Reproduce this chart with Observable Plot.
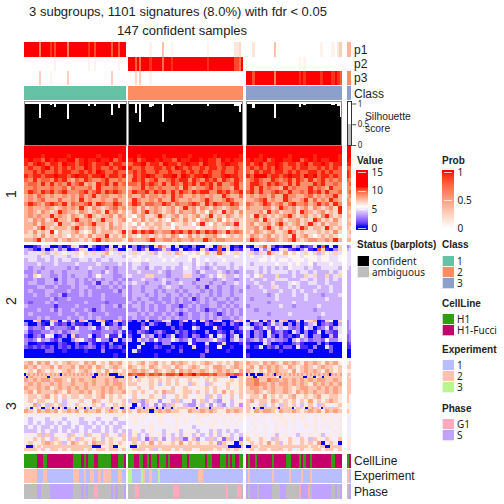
<!DOCTYPE html>
<html><head><meta charset="utf-8">
<script src="https://cdn.jsdelivr.net/npm/d3@7"></script>
<script src="https://cdn.jsdelivr.net/npm/@observablehq/plot@0.6"></script>
<style>
html,body{margin:0;padding:0;background:#fff}
#c{position:relative;width:504px;height:504px;overflow:hidden;font-family:"Liberation Sans",sans-serif;color:#222}
#c>svg,#c>div{position:absolute}
#c svg{background:transparent}
</style></head><body><div id="c"></div>
<script>
// ---------- data ----------
const groups = ["1","2","3"];
const classColors = ["#66C2A5","#FC8D62","#8DA0CB"];
const groupSizes = [48,54,45,2];
const p1 = ["fffffff a ffff e f d fffff a fffffffff e ff d fffffff c ff c fff",
            "0000000000 1 00000 5 000 1 0000000000000000 1 000000000000 2 2 3 0",
            "000 2 000000000 5 000000000000000000000 1 0000 1 1 0 2 4","66"];
const p2 = ["00000000000000 1 000000000000000 1 00 1 0000000000 1 000",
            "fff c f b ffff e fffff b fff e ffffffffffffffff e ffffffffffff d d b f",
            "0000000000000000000000000 1 0 1 00000000000000000","00"];
const p3 = ["0000000 4 0000 1 0000000 4 00000000000000000000 4 000000",
            "000 3 0 4 0000 1 0000000000000000000000000000000000000000000",
            "fff d fffffffff a fffffffffff e f e fffffff e ffff e e f e c","99"];
const silhouette = [
 [.98,.99,.98,.98,.99,.98,.98,.66,.98,.99,.98,.98,.97,.98,.92,.98,.99,.98,.98,.98,.62,.98,.99,.98,.98,.98,.99,.98,.98,.98,.95,.98,.98,.95,.98,.99,.98,.98,.98,.99,.98,.72,.98,.98,.9,.98,.98,.99],
 [.99,.98,.98,.78,.98,.55,.98,.98,.99,.98,.92,.95,.98,.98,.99,.98,.55,.98,.98,.99,.97,.98,.98,.99,.98,.98,.98,.99,.98,.98,.98,.99,.98,.98,.98,.99,.98,.95,.98,.99,.98,.98,.99,.98,.98,.98,.99,.98,.98,.98,.95,.93,.8,.98],
 [.98,.99,.98,.88,.98,.98,.99,.98,.98,.99,.98,.98,.98,.65,.98,.99,.98,.98,.98,.99,.98,.98,.98,.99,.98,.92,.98,.96,.98,.99,.98,.98,.98,.99,.98,.98,.98,.99,.98,.98,.96,.96,.98,.93,.68],
 [.5,.5]];
const cellLine = ["GGGGGG MMM GG MMMMMMMMMMMM GGGG M G M GGG MM GGGGGG MMM GGG M",
 "GGG MM GG MM G M GGG M GGG M G MMMMMM GG M GGGGGGGG M GG MMMM GGG M G M G MM GG",
 "M G MM G MMMMMMM G MMMMMM GG MMMM G M G MM G MMMMMMMMM GG MMM","GM"];
const experiment = ["bbbbbb aaa bb aaaaaaaaaaaa bbb aa b aa bb aa b a bbbb aaa bb aa",
 "cc aaaa c b aa b aaa c aaaaaaaaaaaaaaaaaa bb aaaaaaaaaaaaaaaaaaa",
 "a b aaaaaaaaaa b aaaaaaa b aaaaa b aaa b aaaaaaaaaaaaaa","ba"];
const phase = ["nnnnnn pp nnnn ppppppppppp nnnn p n p nnn kk nnnnnn p n p nnn p",
 "nnn kk nnnnnnnnnnnnnnnn kkk nnnnnnnnnnnnnnnnnnnnnn k nnnn kk n",
 "p n ppp n pppppp nnnn ppp nnnnnn k pp p k n ppppppppp nn p n p","np"];
// heat matrix, base-16 digit per block of samples; group1 group2 group3 strip
const heat1Base = 0.8, heat2Base = 0, heat3Base = 0.3;  // value = base + digit
const heat1 = [
"cdcccdccdcccdcccdccdcccd cdcccdcccdccdcccdccdccdcccd cdccdcccdccdccdccdcccdc cc",
"ccbccdcccbccdccbccccbccc ccbcccdcbccccbccdcccbccccbc cccbcccdccbcccccbccdccc cb",
"bcbbabcbbcabbcbbbabcbbab bcabbcbbabbcbbabcbbcabbcbba bbcabbcbbbabcbbcabbcbba bb",
"abaa9babaabb9abaabaab9ab ab9abbabaa9baabbabaa9babaa abaab9abbaabb9ababaabba ba",
"a9aba9aa9baa9aba9aab9aa9 9aab9aa9baa9abaa9baa9abaa9 a9ab9aaba9aa9ab9aaba9aa aa",
"9a99ab9a9a9a99ba9a99a9ab a99a99aa9a9ba9a99a9aa9a99a9 9a9a9a9ba99a9aa99a9a9a9 99",
"99a9a99a9aa99a9a9ba99a99 9a9a99a99a99a9a9a9a99a99a9 98a9aa9aa9a9a99aa9a9a99 a9",
"a9aa9aabaa9abaa9aab9aa9a 8a9aba99aab9ba9aaba99abaa9 a9bbb9aa9abaa9bab9aa9a9 a9",
"98a8998a9a8798a9889a8898 8a9a89a889a9aa8a98a9a8a98a9 89a988a989a8a98a89a8989 98",
"8998a8a898a89a787a9a8a89 998a9a98a8a98a9a8a9a8a889a8 8aa98a9a98a8a888a9a8898 89",
"88988898897988897a888988 788a898988897a87889a89887a8 8a8a89887a89888a8987a88 88",
"8a98a9a89a8889a89a8a9a98 8a99a8a9a8a8a98a9aa88a9a89a 9a8a889a98a8898a9a8a889 89",
"7879878778787978a7887787 8779788787a89778787877a8779 787887977a88778978788a7 78",
"7878977797787a7877877977 7a87787977a8778778a8778a977 7789a7877a8778a79787a87 87",
"8a9879a98a79889a7a988a97 8a979988a979889a97a8a988a97 9878a978979a88978a897a8 88",
"7877787678787a7687678978 7868678767867a7868768767886 87778867a8786786876786a 77",
"78768767a8776876786a7867 6868a78767868778675876a7868 77786a7867786a87678676a 76",
"787877a78768768a76778687 6578667a76786767867a6768767 76a7867678a76786768a767 77",
"7687867a7768a77867a77678 576867676587686757876857676 7786a76786778676a867686 76",
"77868776a7767878a7768676 65757677675667657a6576787a6 78677868a767867a7686776 77",
"7768a7677768a76786768776 675667676657666656667665676 77868a7686767a86776a767 76",
"768676a5766786568677767a 7a8a9a8788a9a8a8a8a9a87a898 7687678667a867666767686 67",
"6676867676576768677a6768 765776767687568676778656767 68767867676a67865676765 66",
"778a6778678776768a787776 87778a77887877877a87887777 7a877887678a767887787a7 77"];
const heat1Heights = [1,1,1,1,1,1,1,1,1,1,1,1,1,1,1,1,1,1,1,1,1,1,1,1];
const heat2 = [
"001257002017510720105071 0301207a8507010300570a87010 1078a5201007301270a0507 34",
"431040352401275010137400 530270127301501207301a07021 52053701572103510a71037 45",
"455574575655767575786575 575657465758765676857a76575 57475a75686765767476575 55",
"555455455545565555455554 656555565556556665555655565 56556565556665666566556 55",
"455445454554455454554555 566565556565556465655565555 55566565665666566566556 55",
"444544454444544445444454 455445555555455465454555455 54555556556565564555655 55",
"434434444434344544434344 454435445454465454345445454 55545454546555454455554 54",
"334344344344444344354344 445444454344455435444543434 44545455554545545444545 44",
"437644334343444346444334 544477444344477443454674454 54674447444544757447457 44",
"334334414344343434344343 344544345443444414443454434 45445445554445545445454 44",
"344334434344343341443434 454434445344544344434434454 44544454445654455445444 44",
"333443343334344334334343 344344434544344434144344344 34454475445454444544544 44",
"343334433343343433333424 344344343443434443434344343 44445444544545445444544 44",
"334334334133343433433334 344434344344343434434344344 44444345444544544434445 44",
"333333423343333333433333 343443343343434134343443434 43444445444444544445444 44",
"323334343333334333323333 434344334343433434344334344 44444344444544444444444 44",
"433333313333433333433424 344343433433134343344343434 34444444544344444544444 44",
"333433424334334313433333 334343433434343343133434343 44344444444444443444444 44",
"343333334333433433343333 443434334343134334343134343 44444344445444444454444 44",
"333434333343343434333343 343343343434334334343433434 44444444444444444344444 44",
"007801780527085007810782 203070227500270507208700278 07507170780170578017607 34",
"300310521203110300501302 000203100300200100310020310 40230253403030245023204 34",
"523325233321533451353325 000350000020100530005100013 54125315453230540235145 34",
"412233434234433322333241 103210231003120100300210301 30320512310530301503215 33",
"202316501307233502361150 200534020250120320150530250 30320520312015303300416 23",
"323634213003763216330703 407342623364235133346320353 23425343320463423326335 23",
"300110002100200310103001 000500103300006100500170001 10005300100231000302000 12",
"212121202120212320202120 005000210020100700200600100 20150213022051103005200 11",
"000002200100001000300001 051000000100200000300001000 00000000100000020000200 00",
"000000000000000000000100 000000100000000002000000000 10000000000000000000000 00"];
const heat2Heights = [.8,.8,.9,1,1,1,1,1,1,1,1,1,1,1,1,1,1,1,1,1,.7,1,1,1,1,1,1,1,1.1,1.2];
const heat3 = [
"786878576787768786768786 767867867687876767876767687 87768787687876878768786 67",
"878677868778687868767876 876768767768767876768876787 78687878768767876787767 77",
"676876766787678767686767 787876876786878778767878768 87676878776867878768767 66",
"078787878787878780787878787878787007878700007877 a9aa8a9a8aa9b9ab9aa9a88a9a9 070070008787808787878787878787878787878087878 77",
"707877777770777777777777777777770077777777700007 776077776777777666777767777777777767677677777776000777 77700677777777607777777777007770677077777777 76",
"878788788768787787787877 767667676767567665767656767 88977988787878787887787 77",
"787877878778778787787887 776567646757664765476567667 88988787887878768787878 77",
"877878678787878777878787 657657566575676566757657567 78878787787678877878787 77",
"786877787687787867878778 676765768775677676757686767 77876787787687878778787 77",
"677678675767767767867676 575657664557675566475465757 67768676767866767866776 76",
"675776575465675687567667 474376535647456357464365456 78677687676757686767876 76",
"568464757465766576465767 605346353476543364535435463 75674576476754675476567 65",
"676066760077607706707766067707706677767770767007 700777707777707707770767777767770677770777777676777777 776077007777770777770677760778776077777776 65",
"876878786787868778678768 768770787877668778787668787 76878876877876787868787 76",
"656565666565656656565666 656565666566656566665656566 66566566656656656566565 65",
"545554555455545554555455 565655565556565565556565656 55655565665656556565656 55",
"545454454545544545454544 565556566556565556566565565 56556556565655656556565 55",
"454544545445454454545445 555656555656555455565556555 55656556565555656565656 55",
"444545445454454544545454 465456554556456545546454545 56555556555655556555565 55",
"565747465647564756475647 464546564645465464546456454 65656564565546565645656 55",
"657675476576476576467657 474527463547426735474627452 76576547657657647657657 66",
"676678767468767687767676 576768576676867676676376607 57676867467657676806760 66",
"600076776777777777777777777777770000666677006666 600067777777777777777777777777777777777777777770000007 0077767777777777777777777767776770077777 65",
"777675776767776757767767 677767467767677567776767676 67677677767567667767767 66"];
const heat3Heights = [1,1,1,.7,.6,1,1,1,1,1,1,1,.6,1,1,1,1,1,1,1,1,1,.6,.8];
const statusLabels = ["confident","ambiguous"];
const statusColors = ["#000000","#BEBEBE"];
const classLabels = ["1","2","3"];
const cellLineLabels = ["H1","H1-Fucci"];
const cellLineColors = ["#2E9E10","#C6006A"];
const experimentLabels = ["1","2","3"];
const experimentColors = ["#B8BEFF","#FFC0AE","#BAF58E"];
const phaseLabels = ["G1","S"];
const phaseColors = ["#FFA8BE","#BFA3FF","#BEBEBE"];
const valueTicks = [0,5,10,15];
const probTicks = [0,0.5,1];
const silTicks = [0,0.5,1];

// ---------- layout helpers ----------
const root = document.getElementById("c");
const clean = s => s.replace(/\s/g,"");
const groupStart = [0,49,104.5,152];     // in column units, gaps included
const xDomain = [0,154];
const xBase = {domain:xDomain, axis:null};
const LEFT = 24, RIGHT = 504-351.25;
function add(node,left,top){node.style.left=left+"px";node.style.top=top+"px";root.appendChild(node);return node;}
function trackPlot(top,h,marks,y={axis:null},extra={}){
  const svg = Plot.plot({width:504,height:h,margin:0,marginLeft:LEFT,marginRight:RIGHT,x:xBase,y,marks,style:{background:"transparent",overflow:"visible"},...extra});
  return add(svg,0,top);
}
function label(t,x,y,o={}){
  const d=document.createElement("div");d.textContent=t;
  d.style.cssText=`white-space:nowrap;line-height:1;font-size:${o.size||10}px;font-weight:${o.bold?"bold":"normal"};transform:${o.rot?"translate(-50%,-50%) rotate(-90deg)":o.center?"translate(-50%,-50%)":"translateY(-50%)"};color:${o.color||"#222"}`;
  return add(d,x,y);
}
function columns(seq){
  const out=[];
  seq.forEach((s,g)=>{
    const vals = typeof s==="string"?[...clean(s)]:s;
    vals.forEach((v,i)=>out.push({v,x1:groupStart[g]+i*groupSizes[g]/vals.length,x2:groupStart[g]+(i+1)*groupSizes[g]/vals.length}));
  });
  return out;
}
const crisp = {shapeRendering:"crispEdges"};
const probColor = {type:"linear",domain:[0,1],range:["#ffffff","#ff0000"],interpolate:d3.interpolateLab,clamp:true};
const valueColor = {type:"linear",domain:[0,0.5,5.7,11,15],range:["#0000ff","#0000ff","#ffffff","#ff0000","#ff0000"],interpolate:d3.interpolateLab,clamp:true};

// ---------- probability tracks ----------
[[p1,42,14.7],[p2,56.7,14.3],[p3,71,14]].forEach(([seq,top,h])=>{
  const d=columns(seq).map(c=>({...c,p:parseInt(c.v,16)/15}));
  trackPlot(top,h,[Plot.rect(d,{x1:"x1",x2:"x2",y1:0,y2:1,fill:"p",...crisp})],{axis:null,domain:[0,1]},{color:probColor});
});
// ---------- categorical tracks ----------
function catTrack(seq,top,h,map){
  const d=columns(seq).map(c=>({...c,col:map[c.v]}));
  trackPlot(top,h,[Plot.rect(d,{x1:"x1",x2:"x2",y1:0,y2:1,fill:"col",...crisp})],{axis:null,domain:[0,1]});
}
catTrack(["000000000000000000000000000000000000000000000000",
          "111111111111111111111111111111111111111111111111111111",
          "222222222222222222222222222222222222222222222","22"],86,14,classColors);
const clMap={G:cellLineColors[0],M:cellLineColors[1]};
const exMap={a:experimentColors[0],b:experimentColors[1],c:experimentColors[2]};
const phMap={k:phaseColors[0],p:phaseColors[1],n:phaseColors[2]};
catTrack(cellLine,454,14,clMap);
catTrack(experiment,469,14,exMap);
catTrack(phase,484,15,phMap);

// ---------- silhouette ----------
const silD=columns(silhouette);
const frames=groupStart.map((g,i)=>({x1:g,x2:g+groupSizes[i],dark:i===3}));
trackPlot(101,44,[
  Plot.rect(silD.slice(0,147),{x1:"x1",x2:"x2",y1:0,y2:"v",fill:"#000",...crisp}),
  Plot.rect(silD.slice(147),{x1:"x1",x2:"x2",y1:0,y2:"v",fill:"#BEBEBE",...crisp}),
  Plot.rect(frames,{x1:"x1",x2:"x2",y1:0,y2:1.06,fill:"none",stroke:d=>d.dark?"#333":"#8c8c8c",strokeWidth:1,...crisp}),
  Plot.axisY({anchor:"right",ticks:silTicks,tickFormat:d=>String(d),tickSize:4,tickPadding:2,fontSize:8,label:null,color:"#222",stroke:"#555"})
],{axis:null,domain:[0,1.06]},{clip:false});

// ---------- heat blocks ----------
[[heat1,heat1Base,heat1Heights,146,96],[heat2,heat2Base,heat2Heights,245,113],[heat3,heat3Base,heat3Heights,361,90]].forEach(([rows,base,hts,top,h])=>{
  const cells=[];
  let y0=0;
  rows.forEach((r,ri)=>{
    const y1=y0+hts[ri];
    r.split(" ").forEach((s,g)=>{
      [...s].forEach((ch,i)=>{
        const d=parseInt(ch,16);
        cells.push({v:d===0?0:base+d,y0,y1,
          x1:groupStart[g]+i*groupSizes[g]/s.length,x2:groupStart[g]+(i+1)*groupSizes[g]/s.length});
      });
    });
    y0=y1;
  });
  trackPlot(top,h,[Plot.rect(cells,{x1:"x1",x2:"x2",y1:"y0",y2:"y1",fill:"v",...crisp})],
    {axis:null,domain:[0,y0],reverse:true},{color:valueColor});
});

// ---------- color bars ----------
function colorBar(left,ticks,color,max,fmt){
  const pad=max/30;
  const steps=d3.range(0,60).map(i=>({a:-pad+i*(max+2*pad)/60,b:-pad+(i+1)*(max+2*pad)/60}));
  const svg=Plot.plot({width:40,height:60,margin:0,marginRight:28,color,
    x:{domain:[0,1],axis:null},y:{domain:[-pad,max+pad]},
    marks:[
      Plot.rect(steps,{x1:0,x2:1,y1:"a",y2:"b",fill:d=>(d.a+d.b)/2,...crisp}),
      Plot.ruleY(ticks,{y:d=>d,x1:0.15,x2:0.85,stroke:"#fff",strokeWidth:1,strokeOpacity:.75,...crisp}),
      Plot.axisY({anchor:"right",ticks,tickFormat:fmt,tickSize:0,tickPadding:3,fontSize:10,label:null,color:"#222"})
    ],style:{overflow:"visible",background:"transparent"}});
  add(svg,left,170);
}
colorBar(356,valueTicks,valueColor,15,d=>String(d));
colorBar(442,probTicks,probColor,1,d=>String(d));

// ---------- swatch legends ----------
function swatches(left,top,labels,colors){
  const d=labels.map((l,i)=>({l,c:colors[i]}));
  const step=11.7;
  const svg=Plot.plot({width:90,height:step*labels.length,margin:0,marginRight:78,
    x:{domain:[0],axis:null,padding:0},y:{domain:labels,axis:null,padding:0},
    marks:[
      Plot.cell(d,{x:()=>0,y:"l",fill:"c",stroke:"#fff",strokeWidth:.7,...crisp}),
      Plot.text(d,{x:()=>0,y:"l",text:"l",textAnchor:"start",dx:8.5,fontSize:10,fill:"#222"})
    ],style:{overflow:"visible",background:"transparent"}});
  add(svg,left,top);
}
swatches(356.5,254.5,statusLabels,statusColors);
swatches(442,254.5,classLabels,classColors);
swatches(442,312.5,cellLineLabels,cellLineColors);
swatches(442,359,experimentLabels,experimentColors);
swatches(442,418,phaseLabels,phaseColors);

// ---------- text ----------
label("3 subgroups, 1101 signatures (8.0%) with fdr < 0.05",178,10.5,{size:13,center:true});
label("147 confident samples",182,29.5,{size:13,center:true});
[["p1",49.5],["p2",64],["p3",78],["Class",93.5],["CellLine",461],["Experiment",476],["Phase",491.5]]
 .forEach(([t,y])=>label(t,354,y,{size:12}));
label("Silhouette",365,117,{size:10.3});
label("score",365,128.5,{size:10.3});
[["1",194],["2",301],["3",406]].forEach(([t,y])=>label(t,10.5,y,{size:14,rot:true}));
[["Value",357,161],["Prob",442,161],["Status (barplots)",357,245],["Class",442,245],["CellLine",442,304],["Experiment",442,350],["Phase",442,409]]
 .forEach(([t,x,y])=>label(t,x,y,{size:10,bold:true}));
</script></body></html>
